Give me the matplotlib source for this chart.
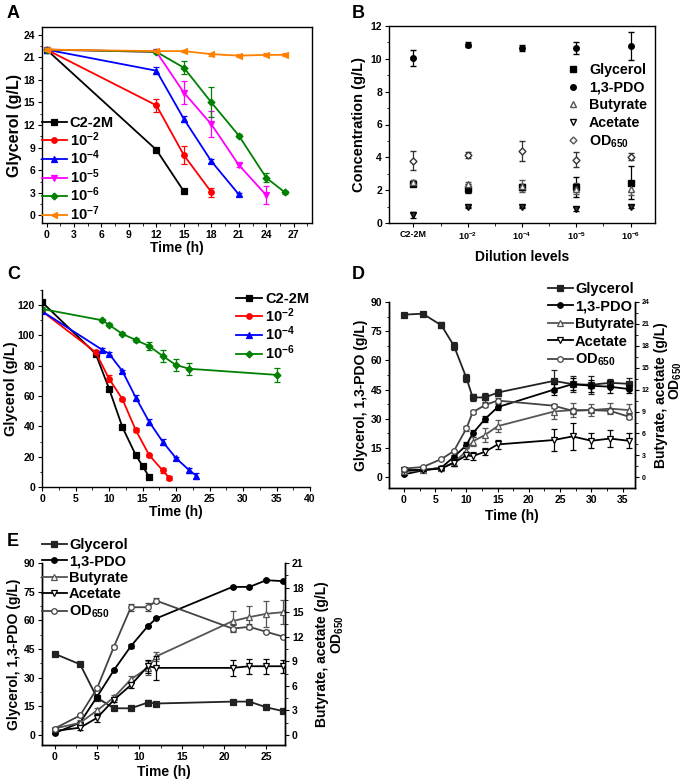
import numpy as np
import matplotlib
matplotlib.use('Agg')
from matplotlib import pyplot as plt
from matplotlib.ticker import MultipleLocator
from matplotlib.lines import Line2D

W, H = 685, 782

# ---------------- data ----------------
# A: glycerol vs time for dilutions
a_labels = ['C2-2M', '10$^{-2}$', '10$^{-4}$', '10$^{-5}$', '10$^{-6}$', '10$^{-7}$']
a_t = [[0, 12, 15],
       [0, 12, 15, 18],
       [0, 12, 15, 18, 21],
       [0, 12, 15, 18, 21, 24],
       [0, 12, 15, 18, 21, 24, 26],
       [0, 12, 15, 18, 21, 24, 26]]
a_gly = [[22, 8.7, 3.2],
         [22, 14.6, 8.0, 3.1],
         [22, 19.2, 12.8, 7.2, 2.8],
         [22, 21.7, 16.3, 12.1, 6.7, 2.7],
         [22, 21.7, 19.6, 15.0, 10.6, 5.0, 3.1],
         [22, 21.8, 21.8, 21.4, 21.2, 21.3, 21.3]]
a_err = [[0.2, 0.3, 0.1],
         [0.2, 0.9, 1.2, 0.6],
         [0.2, 0.5, 0.4, 0.3, 0.2],
         [0.2, 0.2, 1.5, 1.7, 0.3, 1.2],
         [0.2, 0.2, 0.9, 2.0, 0.2, 0.6, 0.2],
         [0.2, 0.1, 0.1, 0.2, 0.2, 0.2, 0.2]]

# B: products at different dilution levels
b_levels = ['C2-2M', '10$^{-2}$', '10$^{-4}$', '10$^{-5}$', '10$^{-6}$']
b_gly = [2.4, 2.1, 2.2, 2.2, 2.45]
b_gly_err = [0.1, 0.3, 0.2, 0.6, 1.0]
b_pdo = [10.05, 10.85, 10.65, 10.65, 10.8]
b_pdo_err = [0.5, 0.15, 0.2, 0.35, 0.85]
b_but = [2.5, 2.35, 2.25, 2.1, 2.1]
b_but_err = [0.1, 0.15, 0.35, 0.35, 0.4]
b_ace = [0.5, 0.95, 0.95, 0.85, 1.0]
b_ace_err = [0.2, 0.05, 0.05, 0.1, 0.1]
b_od = [3.8, 4.15, 4.4, 3.85, 4.05]
b_od_err = [0.6, 0.2, 0.6, 0.45, 0.2]

# C: glycerol, high initial concentration
c_labels = ['C2-2M', '10$^{-2}$', '10$^{-4}$', '10$^{-6}$']
c_t = [[0, 8, 10, 12, 14, 15, 16],
       [0, 8, 10, 12, 14, 16, 18, 19],
       [0, 9, 10, 12, 14, 16, 18, 20, 22, 23],
       [0, 9, 10, 12, 14, 16, 18, 20, 22, 35]]
c_gly = [[122, 88, 65, 39.5, 21, 14, 6.5],
         [116, 89, 71.5, 58, 37.5, 21, 11, 6],
         [116, 90.5, 88, 76.5, 59, 43, 30, 19, 11, 7.5],
         [117.5, 110, 107, 101, 97, 93, 86.5, 80.5, 78, 74]]
c_err = [[1, 1, 1, 1, 1.5, 1, 1],
         [1, 1, 2.5, 1, 1.5, 1, 1.5, 1.2],
         [1, 1, 1, 1, 1.5, 2, 2, 1, 1.5, 2],
         [1, 1, 1, 1, 1.5, 2.5, 4, 4, 4, 4.5]]

# D: batch fermentation, 90 g/L glycerol
d_t = [0, 3, 6, 8, 10, 11, 13, 15, 24, 27, 30, 33, 36]
d_gly = [83.5, 84, 78, 67.5, 51, 41, 41, 43.5, 49.5, 47.8, 47.5, 48.5, 48]
d_gly_err = [0.5, 0.5, 1.5, 2, 2, 2, 2.5, 2, 5.5, 4, 4.5, 2, 3]
d_pdo = [1.5, 3.5, 5, 10.5, 16.5, 22.5, 30, 36, 45, 47.8, 47, 46.5, 45.3]
d_pdo_err = [0.3, 0.5, 0.5, 1, 1.5, 2, 1.5, 1.5, 3, 3, 3, 3, 2]
d_but = [0.8, 1.0, 1.3, 2.0, 3.6, 4.9, 5.8, 7.0, 9.0, 9.2, 9.2, 9.4, 9.2]
d_but_err = [0.1, 0.1, 0.3, 0.5, 0.6, 0.6, 0.9, 0.8, 1.0, 1.0, 0.8, 0.8, 0.8]
d_ace = [1.0, 1.0, 1.2, 2.0, 3.0, 2.9, 3.5, 4.5, 5.1, 5.6, 5.0, 5.3, 5.0]
d_ace_err = [0.1, 0.1, 0.2, 0.5, 0.5, 0.5, 0.5, 0.6, 1.5, 1.8, 1.0, 1.2, 1.0]
d_od = [1.2, 1.4, 2.5, 3.6, 6.7, 8.9, 9.9, 10.5, 9.8, 9.1, 9.2, 9.1, 8.3]
d_od_err = [0.1, 0.1, 0.2, 0.2, 0.3, 0.3, 0.3, 0.3, 0.3, 0.4, 0.3, 0.3, 0.3]

# E: fed-batch
e_t = [0, 3, 5, 7, 9, 11, 12, 21, 23, 25, 27]
e_gly = [42.5, 37, 19.5, 14, 14, 17, 16.5, 17.5, 17.5, 14.5, 12.5]
e_gly_err = [0.5, 0.5, 1, 0.5, 1, 1.5, 1, 0.5, 0.5, 0.7, 1.2]
e_pdo = [1, 6.5, 20, 34, 46.5, 57, 61, 77.5, 77.5, 81, 80.5]
e_pdo_err = [0.3, 0.5, 0.5, 0.5, 1, 0.5, 0.5, 0.5, 0.5, 0.5, 0.5]
e_but = [0.8, 1.5, 3.0, 4.6, 6.8, 8.2, 9.6, 13.9, 14.4, 14.8, 15.0]
e_but_err = [0.2, 0.3, 0.3, 0.3, 0.4, 0.9, 0.5, 1.2, 1.3, 1.6, 1.5]
e_ace = [0.5, 0.9, 2.1, 4.3, 6.1, 8.4, 8.2, 8.2, 8.4, 8.4, 8.4]
e_ace_err = [0.1, 0.3, 0.5, 0.3, 0.3, 0.8, 1.5, 1.0, 0.9, 0.9, 0.8]
e_od = [0.8, 2.4, 5.7, 10.8, 15.6, 15.6, 16.4, 13.0, 13.2, 12.6, 12.0]
e_od_err = [0.1, 0.2, 0.2, 0.2, 0.4, 0.5, 0.3, 0.4, 0.3, 0.2, 0.2]

# ---------------- style ----------------
plt.rcParams['font.family'] = ['Liberation Sans', 'DejaVu Sans']
plt.rcParams['font.weight'] = 'bold'
plt.rcParams['axes.labelweight'] = 'bold'
plt.rcParams['mathtext.fontset'] = 'custom'
plt.rcParams['mathtext.rm'] = 'Liberation Sans:bold'
plt.rcParams['mathtext.bf'] = 'Liberation Sans:bold'
plt.rcParams['mathtext.it'] = 'Liberation Sans:bold'
plt.rcParams['mathtext.default'] = 'bf'
plt.rcParams['axes.linewidth'] = 1.0
plt.rcParams['xtick.major.size'] = 3
plt.rcParams['ytick.major.size'] = 3
plt.rcParams['xtick.minor.size'] = 1.8
plt.rcParams['ytick.minor.size'] = 1.8
plt.rcParams['xtick.major.pad'] = 2
plt.rcParams['ytick.major.pad'] = 2

fig = plt.figure(figsize=(W / 100, H / 100), dpi=100)


def box(l, t, r, b):
    return fig.add_axes([l / W, 1 - b / H, (r - l) / W, (b - t) / H])


def fx(x):
    return x / W


def fy(y):
    return 1 - y / H


def series(ax, t, y, e, color, marker, ms=4, mfc=None, lw=1.3, ecolor=None, label=None):
    ax.errorbar(t, y, yerr=e, fmt='none', ecolor=ecolor or color, elinewidth=0.9,
                capsize=2, capthick=0.9)
    ax.plot(t, y, color=color, marker=marker, ms=ms, lw=lw,
            mfc=mfc or color, mec=color, mew=0.9, label=label)


# ---------------- A ----------------
axA = box(42, 27, 312, 223)
a_colors = ['black', '#ff0000', '#0000ff', '#ff00ff', '#008000', '#ff8000']
a_markers = ['s', 'o', '^', 'v', 'D', '<']
for i in range(len(a_t)):
    series(axA, a_t[i], a_gly[i], a_err[i], a_colors[i], a_markers[i],
           ms=3.5 if a_markers[i] == 'D' else 4, label=a_labels[i])
axA.set_xlim(-0.5, 29)
axA.set_ylim(-1, 25)
axA.xaxis.set_major_locator(MultipleLocator(3))
axA.xaxis.set_minor_locator(MultipleLocator(1.5))
axA.yaxis.set_major_locator(MultipleLocator(3))
axA.yaxis.set_minor_locator(MultipleLocator(1.5))
axA.tick_params(labelsize=7.5)
axA.set_xlabel('Time (h)', fontsize=10, labelpad=1)
axA.set_ylabel('Glycerol (g/L)', fontsize=11.5, labelpad=1)
axA.legend(loc='upper left', bbox_to_anchor=(fx(42), fy(116)), bbox_transform=fig.transFigure,
           frameon=False, fontsize=10.5, handlelength=1.7, handletextpad=0.2,
           labelspacing=0.0, borderpad=0, borderaxespad=0)

# ---------------- B ----------------
axB = box(389, 26, 655, 223)
bx = np.arange(len(b_levels))
axB.errorbar(bx, b_gly, yerr=b_gly_err, fmt='s', color='black', ms=4, capsize=2, elinewidth=0.9, label='Glycerol')
axB.errorbar(bx, b_pdo, yerr=b_pdo_err, fmt='o', color='black', ms=4, capsize=2, elinewidth=0.9, label='1,3-PDO')
axB.errorbar(bx, b_but, yerr=b_but_err, fmt='^', color='#555555', mfc='white', ms=4, capsize=2, elinewidth=0.9, label='Butyrate')
axB.errorbar(bx, b_ace, yerr=b_ace_err, fmt='v', color='black', mfc='#333333', ms=4, capsize=2, elinewidth=0.9, label='Acetate')
axB.errorbar(bx, b_od, yerr=b_od_err, fmt='D', color='#333333', mfc='white', ms=3.5, capsize=2, elinewidth=0.9, label='OD$_{650}$')
axB.set_xlim(-0.45, 4.45)
axB.set_ylim(0, 12)
axB.set_xticks(bx)
axB.set_xticklabels(b_levels)
axB.xaxis.set_minor_locator(MultipleLocator(0.5))
axB.yaxis.set_major_locator(MultipleLocator(2))
axB.yaxis.set_minor_locator(MultipleLocator(1))
axB.tick_params(axis='y', labelsize=7.5)
axB.tick_params(axis='x', labelsize=6.5)
axB.set_xlabel('Dilution levels', fontsize=10, labelpad=6)
axB.set_ylabel('Concentration (g/L)', fontsize=10.5, labelpad=3)
b_handles = [Line2D([], [], ls='none', marker='s', color='black', ms=4),
             Line2D([], [], ls='none', marker='o', color='black', ms=4),
             Line2D([], [], ls='none', marker='^', color='#555555', mfc='white', ms=4),
             Line2D([], [], ls='none', marker='v', color='black', mfc='white', ms=4),
             Line2D([], [], ls='none', marker='D', color='#555555', mfc='white', ms=3.5)]
axB.legend(b_handles, ['Glycerol', '1,3-PDO', 'Butyrate', 'Acetate', 'OD$_{650}$'],
           loc='upper left', bbox_to_anchor=(fx(566), fy(63)), bbox_transform=fig.transFigure,
           frameon=False, fontsize=10.3, handlelength=1.0, handletextpad=0.6,
           labelspacing=0.25, borderpad=0, borderaxespad=0)

# ---------------- C ----------------
axC = box(42, 290, 310, 487)
c_colors = ['black', '#ff0000', '#0000ff', '#008000']
c_markers = ['s', 'o', '^', 'D']
for i in range(len(c_t)):
    series(axC, c_t[i], c_gly[i], c_err[i], c_colors[i], c_markers[i],
           ms=3.5 if c_markers[i] == 'D' else 4, label=c_labels[i])
axC.set_xlim(0, 40)
axC.set_ylim(0, 130)
axC.spines['top'].set_visible(False)
axC.spines['right'].set_visible(False)
axC.xaxis.set_major_locator(MultipleLocator(5))
axC.xaxis.set_minor_locator(MultipleLocator(2.5))
axC.yaxis.set_major_locator(MultipleLocator(20))
axC.yaxis.set_minor_locator(MultipleLocator(10))
axC.tick_params(labelsize=7.5)
axC.set_xlabel('Time (h)', fontsize=10, labelpad=1)
axC.set_ylabel('Glycerol (g/L)', fontsize=10.5, labelpad=0)
axC.legend(loc='upper left', bbox_to_anchor=(fx(236), fy(292)), bbox_transform=fig.transFigure,
           frameon=False, fontsize=10.5, handlelength=1.8, handletextpad=0.2,
           labelspacing=0.0, borderpad=0, borderaxespad=0)


# ---------------- D and E (two y axes) ----------------
def twin_panel(ax, t, gly, gly_e, pdo, pdo_e, but, but_e, ace, ace_e, od, od_e):
    ax2 = ax.twinx()
    series(ax, t, gly, gly_e, '#222222', 's', label='Glycerol')
    series(ax, t, pdo, pdo_e, 'black', 'o', label='1,3-PDO')
    series(ax2, t, but, but_e, '#555555', '^', mfc='white', label='Butyrate')
    series(ax2, t, ace, ace_e, 'black', 'v', mfc='white', label='Acetate')
    series(ax2, t, od, od_e, '#444444', 'o', mfc='white', label='OD$_{650}$')
    return ax2


axD = box(389, 302, 635, 488)
axD2 = twin_panel(axD, d_t, d_gly, d_gly_err, d_pdo, d_pdo_err, d_but, d_but_err,
                  d_ace, d_ace_err, d_od, d_od_err)
axD.set_xlim(-2.4, 37)
axD.set_ylim(-5.5, 90)
axD2.set_ylim(-5.5 * 24 / 90, 24)
for a in (axD, axD2):
    a.spines['top'].set_visible(False)
axD.xaxis.set_major_locator(MultipleLocator(5))
axD.xaxis.set_minor_locator(MultipleLocator(2.5))
axD.yaxis.set_major_locator(MultipleLocator(15))
axD.yaxis.set_minor_locator(MultipleLocator(7.5))
axD2.yaxis.set_major_locator(MultipleLocator(3))
axD2.yaxis.set_minor_locator(MultipleLocator(1.5))
axD.tick_params(labelsize=7.5)
axD2.tick_params(labelsize=5)
axD.set_xlabel('Time (h)', fontsize=10, labelpad=3)
axD.set_ylabel('Glycerol, 1,3-PDO (g/L)', fontsize=10, labelpad=2)
axD2.set_ylabel('Butyrate, acetate (g/L)', fontsize=10, labelpad=3)
fig.text(fx(676), fy(381), 'OD$_{650}$', fontsize=10, rotation=90, ha='center', va='center')
hD = axD.get_legend_handles_labels()
hD2 = axD2.get_legend_handles_labels()
fig.legend(hD[0] + hD2[0], hD[1] + hD2[1], loc='upper left',
           bbox_to_anchor=(fx(548), fy(282)), frameon=False, fontsize=10.5,
           handlelength=1.7, handletextpad=0.15, labelspacing=0.24,
           borderpad=0, borderaxespad=0)

axE = box(42, 563, 285, 745)
axE2 = twin_panel(axE, e_t, e_gly, e_gly_err, e_pdo, e_pdo_err, e_but, e_but_err,
                  e_ace, e_ace_err, e_od, e_od_err)
axE.set_xlim(-1.5, 27.2)
axE.set_ylim(-5.2, 90)
axE2.set_ylim(-5.2 * 21 / 90, 21)
for a in (axE, axE2):
    a.spines['top'].set_visible(False)
axE.xaxis.set_major_locator(MultipleLocator(5))
axE.xaxis.set_minor_locator(MultipleLocator(2.5))
axE.yaxis.set_major_locator(MultipleLocator(15))
axE.yaxis.set_minor_locator(MultipleLocator(7.5))
axE2.yaxis.set_major_locator(MultipleLocator(3))
axE2.yaxis.set_minor_locator(MultipleLocator(1.5))
axE.tick_params(labelsize=7.5)
axE2.tick_params(labelsize=7.5)
axE.set_xlabel('Time (h)', fontsize=10, labelpad=2)
axE.set_ylabel('Glycerol, 1,3-PDO (g/L)', fontsize=10, labelpad=2)
axE2.set_ylabel('Butyrate, acetate (g/L)', fontsize=10, labelpad=8)
fig.text(fx(338), fy(635), 'OD$_{650}$', fontsize=10, rotation=90, ha='center', va='center')
hE = axE.get_legend_handles_labels()
hE2 = axE2.get_legend_handles_labels()
fig.legend(hE[0] + hE2[0], hE[1] + hE2[1], loc='upper left',
           bbox_to_anchor=(fx(42), fy(538)), frameon=False, fontsize=10.5,
           handlelength=1.7, handletextpad=0.15, labelspacing=0.17,
           borderpad=0, borderaxespad=0)

# panel letters
for letter, x, y in [('A', 7, 5), ('B', 352, 5), ('C', 7, 266), ('D', 352, 266), ('E', 7, 533)]:
    fig.text(fx(x), fy(y), letter, fontsize=13, fontweight='bold', va='top', ha='left')

fig.savefig('out.png', dpi=100)
